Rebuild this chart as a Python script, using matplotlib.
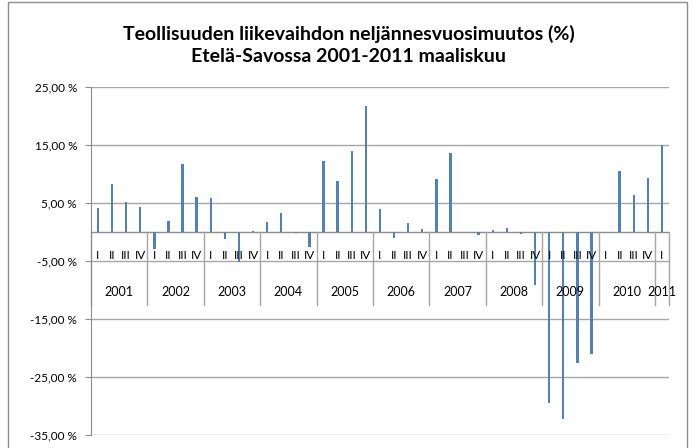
import numpy as np
import matplotlib.pyplot as plt
from matplotlib.patches import Rectangle

plt.rcParams['font.family'] = ['Lato', 'DejaVu Sans']

years = ['2001', '2002', '2003', '2004', '2005', '2006', '2007', '2008', '2009', '2010', '2011']
quarters = ['I', 'II', 'III', 'IV']
# quarterly change (%), 2001 Q1 .. 2011 Q1
values = [4.2, 8.4, 5.3, 4.4,
          -2.9, 2.0, 11.8, 6.0,
          5.9, -1.2, -5.2, 0.2,
          1.8, 3.4, -0.2, -2.5,
          12.3, 8.8, 14.0, 21.7,
          4.0, -1.0, 1.6, 0.5,
          9.2, 13.6, 0.1, -0.5,
          0.3, 0.7, -0.3, -9.1,
          -29.4, -32.2, -22.6, -21.1,
          0.1, 10.5, 6.5, 9.4,
          15.0]
q_per_year = [4] * 10 + [1]

fig = plt.figure(figsize=(6.94, 4.48), dpi=100)
# outer chart frame (bottom edge runs off the image)
fig.patches.append(Rectangle((0.0115, -0.02), 0.978, 1.015, transform=fig.transFigure,
                             fill=False, edgecolor='#8c8c8c', linewidth=1))
ax = fig.add_axes([0.131, 0.029, 0.833, 0.776])

x = np.arange(len(values))
ax.bar(x, values, width=0.17, color='#4f81bd', zorder=3)

ax.set_xlim(-0.5, len(values) - 0.5)
ax.set_ylim(-35, 25)
yt = np.arange(-35, 26, 10)
ax.set_yticks(yt)
ax.set_yticklabels([f'{v:.2f}'.replace('.', ',') + ' %' for v in yt], fontsize=8.5)
ax.tick_params(axis='y', length=4, color='#8c8c8c', pad=6)
ax.set_xticks([])
for y in yt:
    ax.axhline(y, color='#a6a6a6', linewidth=1, zorder=1)
ax.axhline(0, color='#8c8c8c', linewidth=1, zorder=2)
for s in ['top', 'right', 'bottom']:
    ax.spines[s].set_visible(False)
ax.spines['left'].set_color('#8c8c8c')

# multi-level category labels below the zero line
pos = 0
bounds = [-0.5]
for yr, n in zip(years, q_per_year):
    for q in range(n):
        ax.text(pos + q, -4.0, quarters[q], ha='center', va='center', fontsize=8.5, zorder=4)
    ax.text(pos + (n - 1) / 2, -10.4, yr, ha='center', va='center', fontsize=9, zorder=4)
    pos += n
    bounds.append(pos - 0.5)
for b in bounds:
    ax.plot([b, b], [0, -12.6], color='#a6a6a6', linewidth=1, zorder=2, clip_on=False)

fig.text(0.502, 0.9, 'Teollisuuden liikevaihdon neljännesvuosimuutos (%)\nEtelä-Savossa 2001-2011 maaliskuu',
         ha='center', va='center', fontsize=14, fontweight='bold', linespacing=1.35)

fig.savefig('out.png', dpi=100)
